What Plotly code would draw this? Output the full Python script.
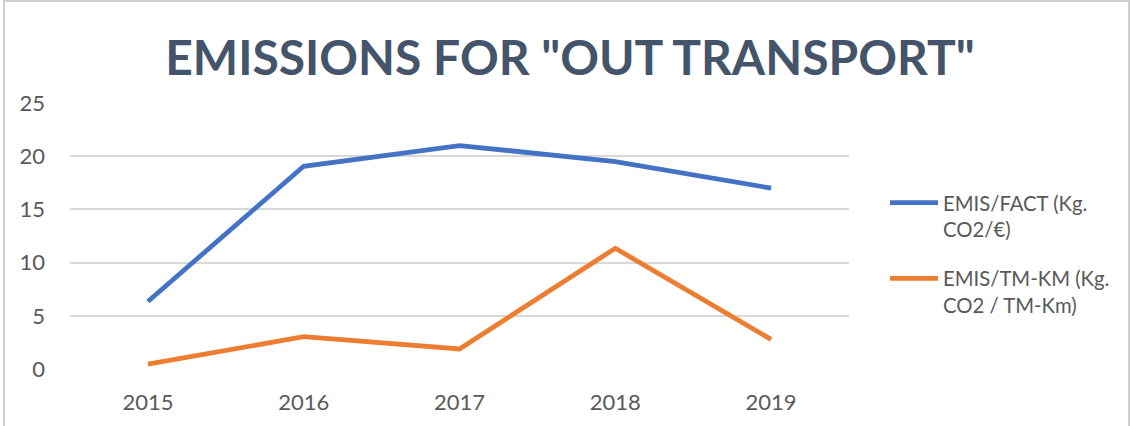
import plotly.graph_objects as go

years = ["2015", "2016", "2017", "2018", "2019"]
emis_fact = [6.35, 19.05, 21.0, 19.5, 17.0]
emis_tmkm = [0.45, 3.04, 1.88, 11.35, 2.78]
series_names = ["EMIS/FACT (Kg.<br>CO2/€)", "EMIS/TM-KM (Kg.<br>CO2 / TM-Km)"]
y_ticks = [0, 5, 10, 15, 20, 25]

W, H = 1132, 426
L, R, T, B = 70, 283, 103, 57
pw, ph = W - L - R, H - T - B

fig = go.Figure()
fig.add_trace(go.Scatter(x=years, y=emis_fact, mode="lines", name=series_names[0],
                         line=dict(color="#4472C4", width=4.8), legendgroup="a"))
fig.add_trace(go.Scatter(x=years, y=emis_tmkm, mode="lines", name=series_names[1],
                         line=dict(color="#ED7D31", width=4.8), legendgroup="b"))

fig.update_layout(
    width=W, height=H,
    margin=dict(l=L, r=R, t=T, b=B),
    paper_bgcolor="white", plot_bgcolor="white",
    font=dict(family="Lato, Carlito, sans-serif", color="#595959", size=20),
    title=dict(text='EMISSIONS FOR "OUT TRANSPORT"', x=0.5035, xanchor="center",
               y=1 - 58 / H, yanchor="middle", yref="container",
               font=dict(family="Lato, sans-serif", size=48, color="#44546A", weight="bold")),
    xaxis=dict(showgrid=False, showline=False, ticks="", tickfont=dict(size=22, color="#595959"),
               range=[-0.5, 4.5], ticklabelstandoff=18),
    yaxis=dict(range=[0, 25], tickvals=y_ticks, showgrid=True, gridcolor="#D9D9D9", gridwidth=1.5,
               zeroline=False, ticks="", ticklabelstandoff=24, tickfont=dict(size=22, color="#595959")),
    legend=dict(x=(885 - L) / pw, y=(369 - 183) / ph, xanchor="left", yanchor="top",
                font=dict(size=20.3, color="#595959"), valign="top", itemwidth=48,
                traceorder="grouped", tracegroupgap=20, bgcolor="rgba(0,0,0,0)"),
    showlegend=True,
)

fig.add_shape(type="rect", xref="paper", yref="paper",
              x0=(4 - L) / pw, x1=(1129 - L) / pw,
              y0=(369 - 440) / ph, y1=(369 - 1) / ph,
              line=dict(color="#BFBFBF", width=1.5), fillcolor="rgba(0,0,0,0)", layer="below")

fig.write_html("out.html", config={"displayModeBar": False},
               post_script="document.body.style.margin='0';document.body.style.overflow='hidden';")
